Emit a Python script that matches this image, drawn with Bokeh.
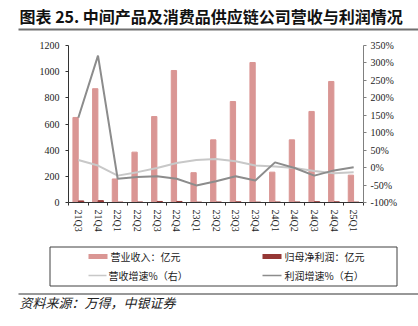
import numpy as np
from bokeh.plotting import figure
from bokeh.layouts import column
from bokeh.models import Range1d, LinearAxis, FixedTicker, PrintfTickFormatter, BoxAnnotation
from bokeh.core.properties import value
from bokeh.embed import file_html
from bokeh.resources import INLINE

quarters = ["21Q3", "21Q4", "22Q1", "22Q2", "22Q3", "22Q4", "23Q1", "23Q2",
            "23Q3", "23Q4", "24Q1", "24Q2", "24Q3", "24Q4", "25Q1"]
revenue = [650, 870, 180, 385, 657, 1009, 228, 479, 772, 1070, 232, 479, 696, 925, 209]
net_profit = [12, 14, 3, 4, 8, 8, 3, 4, 5, 3, 4, 4, 6, 5, 3]
revenue_growth = [22, 6, -23, -13, -1, 13, 22, 25, 18, 6, 3, -1, -10, -16, -13]
profit_growth = [143, 321, -32, -27, -25, -32, -51, -39, -25, -37, 15, -1, -23, -8, 1]
left_ticks = [0, 200, 400, 600, 800, 1000, 1200]
right_ticks = [-100, -50, 0, 50, 100, 150, 200, 250, 300, 350]

title_text = "图表 25. 中间产品及消费品供应链公司营收与利润情况"
legend_labels = ["营业收入：亿元", "归母净利润：亿元", "营收增速%（右）", "利润增速%（右）"]
source_text = "资料来源：万得，中银证券"

BAR_C = "#DA9694"
PROF_C = "#953735"
RG_C = "#C8C8C8"
PG_C = "#8C8C8C"
CJK = value("Noto Sans CJK SC")
SERIF = "Liberation Serif"

W = 418


def blank(h):
    f = figure(width=W, height=h, x_range=Range1d(0, W), y_range=Range1d(0, h),
               output_backend="svg", toolbar_location=None, min_border=0)
    f.axis.visible = False
    f.grid.visible = False
    f.outline_line_color = None
    f.frame_align = False
    return f


def band(f, h, l, r, t, b, color=None, line=None):
    # page-style (top-down) pixel coordinates inside a blank figure of height h
    f.add_layout(BoxAnnotation(left=l, right=r, top=h - t, bottom=h - b,
                               fill_color=color, fill_alpha=1.0 if color else 0.0,
                               line_color=line, line_alpha=1.0 if line else 0.0,
                               line_width=1, editable=False))


# ---------- header (page y 0..36) ----------
HH = 36
head = blank(HH)
band(head, HH, 18, W, 28, 30, color="#6f6f6f")
head.text(x=[19], y=[HH - 15], text=[title_text], text_font=CJK, text_font_style="bold",
          text_font_size="16px", text_baseline="middle", text_color="#111111")

# ---------- main chart (page y 36..240) ----------
n = len(quarters)
idx = np.arange(n)
p = figure(width=W, height=204, x_range=Range1d(0, n), y_range=Range1d(0, 1200),
           output_backend="svg", toolbar_location=None,
           min_border_left=68, min_border_right=55, min_border_top=9, min_border_bottom=38)
p.frame_align = False
p.outline_line_color = None
p.grid.visible = False
p.extra_y_ranges = {"pct": Range1d(-100, 350)}

p.vbar(x=idx + 0.5 - 0.14, top=revenue, width=0.27, color=BAR_C)
p.vbar(x=idx + 0.5 + 0.14, top=net_profit, width=0.27, color=PROF_C)
p.line(x=idx + 0.5, y=revenue_growth, y_range_name="pct", line_color=RG_C, line_width=2)
p.line(x=idx + 0.5, y=profit_growth, y_range_name="pct", line_color=PG_C, line_width=2)

xa = p.xaxis[0]
xa.ticker = FixedTicker(ticks=list(idx + 0.5), minor_ticks=list(range(n + 1)))
xa.major_label_overrides = {float(i + 0.5): q for i, q in enumerate(quarters)}
xa.major_label_orientation = -np.pi / 2
xa.major_tick_out = 0
xa.major_tick_in = 0
xa.minor_tick_out = 3
xa.minor_tick_in = 0
xa.minor_tick_line_color = "#333333"
xa.axis_line_color = "#333333"
xa.major_label_standoff = 4

ya = p.yaxis[0]
ya.ticker = FixedTicker(ticks=left_ticks)
ya.major_tick_out = 3
ya.major_tick_in = 0
ya.minor_tick_line_color = None
ya.axis_line_color = "#333333"
ya.major_tick_line_color = "#333333"
ya.major_label_standoff = 6

ra = LinearAxis(y_range_name="pct", ticker=FixedTicker(ticks=right_ticks),
                formatter=PrintfTickFormatter(format="%d%%"))
ra.major_tick_out = 3
ra.major_tick_in = 0
ra.minor_tick_line_color = None
ra.axis_line_color = "#808080"
ra.major_tick_line_color = "#808080"
ra.major_label_standoff = 4
p.add_layout(ra, "right")

for ax in (xa, ya, ra):
    ax.major_label_text_font = SERIF
    ax.major_label_text_font_size = "10px"
    ax.major_label_text_color = "#222222"

# ---------- legend + footer (page y 240..326) ----------
FH = 86
foot = blank(FH)
band(foot, FH, 49.5, 396.5, 6.5, 45.5, line="#404040")
band(foot, FH, 18, W, 53, 54, color="#333333")
foot.quad(left=[88, 262], right=[107, 281], top=[FH - 13.5, FH - 13.5],
          bottom=[FH - 18.5, FH - 18.5], fill_color=[BAR_C, PROF_C], line_color=None)
foot.quad(left=[88, 262], right=[106, 281], top=[FH - 34.2, FH - 34.2],
          bottom=[FH - 35.8, FH - 35.8], fill_color=[RG_C, PG_C], line_color=None)
foot.text(x=[110, 284, 108, 284], y=[FH - 16, FH - 16, FH - 35, FH - 35], text=legend_labels,
          text_font=CJK, text_font_size="10px", text_baseline="middle", text_color="#222222")
foot.text(x=[19], y=[FH - 62], text=[source_text], text_font=CJK, text_font_style="italic",
          text_font_size="13px", text_baseline="middle", text_color="#222222")

layout = column(head, p, foot, spacing=0)
open("out.html", "w").write(file_html(layout, INLINE))
